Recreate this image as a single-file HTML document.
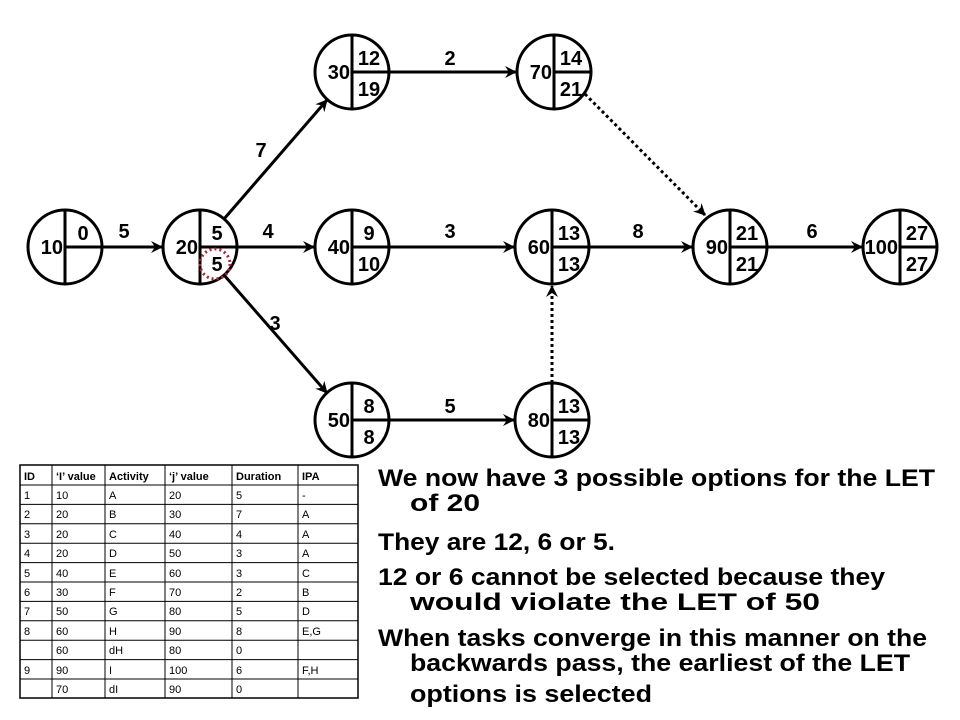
<!DOCTYPE html>
<html><head><meta charset="utf-8"><style>
body{margin:0;background:#fff;width:960px;height:720px;overflow:hidden;font-family:"Liberation Sans",Arial,sans-serif}
svg{position:absolute;left:0;top:0}
</style></head><body>
<svg width="960" height="720" viewBox="0 0 960 720" xmlns="http://www.w3.org/2000/svg">
<defs>
<marker id="a" markerWidth="12" markerHeight="12" refX="11" refY="6" orient="auto" markerUnits="userSpaceOnUse">
<path d="M0,0 L12,6 L0,12 L4,6 Z" fill="#000"/></marker>
</defs>
<g stroke="#000" stroke-width="3" fill="none">
<line x1="102" y1="247" x2="162" y2="247" marker-end="url(#a)"/>
<line x1="237" y1="247" x2="314" y2="247" marker-end="url(#a)"/>
<line x1="389" y1="247" x2="514" y2="247" marker-end="url(#a)"/>
<line x1="589" y1="247" x2="692" y2="247" marker-end="url(#a)"/>
<line x1="767" y1="247" x2="862" y2="247" marker-end="url(#a)"/>
<line x1="389" y1="72" x2="516" y2="72" marker-end="url(#a)"/>
<line x1="389" y1="420" x2="514" y2="420" marker-end="url(#a)"/>
<line x1="224" y1="219" x2="327" y2="100" marker-end="url(#a)"/>
<line x1="224" y1="275" x2="327" y2="393" marker-end="url(#a)"/>
<line x1="585" y1="94" x2="705" y2="215" stroke-dasharray="3,3" marker-end="url(#a)"/>
<line x1="552" y1="383" x2="552" y2="286" stroke-dasharray="3,3" marker-end="url(#a)"/>
</g>
<g stroke="#000" stroke-width="3" fill="#fff">
<circle cx="65" cy="247" r="37"/><circle cx="200" cy="247" r="37"/>
<circle cx="352" cy="72" r="37"/><circle cx="554" cy="72" r="37"/>
<circle cx="352" cy="247" r="37"/><circle cx="552" cy="247" r="37"/>
<circle cx="730" cy="247" r="37"/><circle cx="900" cy="247" r="37"/>
<circle cx="352" cy="420" r="37"/><circle cx="552" cy="420" r="37"/>
</g>
<g stroke="#000" stroke-width="3">
<path d="M65 210V284M65 247H102"/><path d="M200 210V284M200 247H237"/>
<path d="M352 35V109M352 72H389"/><path d="M554 35V109M554 72H591"/>
<path d="M352 210V284M352 247H389"/><path d="M552 210V284M552 247H589"/>
<path d="M730 210V284M730 247H767"/><path d="M900 210V284M900 247H937"/>
<path d="M352 383V457M352 420H389"/><path d="M552 383V457M552 420H589"/>
</g>
<circle cx="215" cy="264" r="15" fill="none" stroke="#b0203a" stroke-width="3" stroke-dasharray="2,3"/>
<g font-family="Liberation Sans, Arial, sans-serif" font-weight="bold" font-size="20" fill="#000">
<g text-anchor="end">
<text x="63" y="254">10</text><text x="198" y="254">20</text><text x="350" y="79">30</text>
<text x="552" y="79">70</text><text x="350" y="254">40</text><text x="550" y="254">60</text>
<text x="728" y="254">90</text><text x="898" y="254">100</text><text x="350" y="427">50</text>
<text x="550" y="427">80</text>
</g>
<g text-anchor="middle">
<text x="83" y="240">0</text>
<text x="217" y="240">5</text><text x="217" y="271">5</text>
<text x="369" y="65">12</text><text x="369" y="96">19</text>
<text x="571" y="65">14</text><text x="571" y="96">21</text>
<text x="369" y="240">9</text><text x="369" y="271">10</text>
<text x="569" y="240">13</text><text x="569" y="271">13</text>
<text x="747" y="240">21</text><text x="747" y="271">21</text>
<text x="917" y="240">27</text><text x="917" y="271">27</text>
<text x="369" y="413">8</text><text x="369" y="444">8</text>
<text x="569" y="413">13</text><text x="569" y="444">13</text>
<text x="124" y="238">5</text><text x="268" y="238">4</text><text x="450" y="238">3</text>
<text x="638" y="238">8</text><text x="812" y="238">6</text><text x="450" y="65">2</text>
<text x="450" y="413">5</text><text x="261" y="157">7</text><text x="275" y="330">3</text>
</g>
</g>
<g font-family="Liberation Sans, Arial, sans-serif" font-size="11" fill="#000">
<rect x="20" y="465" width="338" height="233" fill="none" stroke="#000" stroke-width="1.5"/>
<g stroke="#000" stroke-width="1">
<path d="M52 465V698M105 465V698M165 465V698M232 465V698M298 465V698"/>
<path d="M20 485H358M20 504.4H358M20 523.8H358M20 543.2H358M20 562.6H358M20 582H358M20 601.4H358M20 620.8H358M20 640.2H358M20 659.6H358M20 679H358"/>
</g>
<g font-weight="bold"><text x="24" y="480">ID</text><text x="56" y="480">‘I’ value</text><text x="109" y="480">Activity</text><text x="169" y="480">‘j’ value</text><text x="236" y="480">Duration</text><text x="302" y="480">IPA</text></g>
<text x="24" y="499">1</text><text x="56" y="499">10</text><text x="109" y="499">A</text><text x="169" y="499">20</text><text x="236" y="499">5</text><text x="302" y="499">-</text>
<text x="24" y="518">2</text><text x="56" y="518">20</text><text x="109" y="518">B</text><text x="169" y="518">30</text><text x="236" y="518">7</text><text x="302" y="518">A</text>
<text x="24" y="538">3</text><text x="56" y="538">20</text><text x="109" y="538">C</text><text x="169" y="538">40</text><text x="236" y="538">4</text><text x="302" y="538">A</text>
<text x="24" y="557">4</text><text x="56" y="557">20</text><text x="109" y="557">D</text><text x="169" y="557">50</text><text x="236" y="557">3</text><text x="302" y="557">A</text>
<text x="24" y="577">5</text><text x="56" y="577">40</text><text x="109" y="577">E</text><text x="169" y="577">60</text><text x="236" y="577">3</text><text x="302" y="577">C</text>
<text x="24" y="596">6</text><text x="56" y="596">30</text><text x="109" y="596">F</text><text x="169" y="596">70</text><text x="236" y="596">2</text><text x="302" y="596">B</text>
<text x="24" y="615">7</text><text x="56" y="615">50</text><text x="109" y="615">G</text><text x="169" y="615">80</text><text x="236" y="615">5</text><text x="302" y="615">D</text>
<text x="24" y="635">8</text><text x="56" y="635">60</text><text x="109" y="635">H</text><text x="169" y="635">90</text><text x="236" y="635">8</text><text x="302" y="635">E,G</text>
<text x="56" y="654">60</text><text x="109" y="654">dH</text><text x="169" y="654">80</text><text x="236" y="654">0</text>
<text x="24" y="674">9</text><text x="56" y="674">90</text><text x="109" y="674">I</text><text x="169" y="674">100</text><text x="236" y="674">6</text><text x="302" y="674">F,H</text>
<text x="56" y="693">70</text><text x="109" y="693">dI</text><text x="169" y="693">90</text><text x="236" y="693">0</text>
</g>
<g font-family="Liberation Sans, Arial, sans-serif" font-weight="bold" font-size="24" fill="#000" lengthAdjust="spacingAndGlyphs">
<text x="378" y="486" textLength="557" lengthAdjust="spacingAndGlyphs">We now have 3 possible options for the LET</text>
<text x="410" y="511" textLength="70" lengthAdjust="spacingAndGlyphs">of 20</text>
<text x="378" y="550" textLength="237" lengthAdjust="spacingAndGlyphs">They are 12, 6 or 5.</text>
<text x="378" y="585" textLength="507" lengthAdjust="spacingAndGlyphs">12 or 6 cannot be selected because they</text>
<text x="410" y="610" textLength="410" lengthAdjust="spacingAndGlyphs">would violate the LET of 50</text>
<text x="378" y="646" textLength="549" lengthAdjust="spacingAndGlyphs">When tasks converge in this manner on the</text>
<text x="410" y="671" textLength="500" lengthAdjust="spacingAndGlyphs">backwards pass, the earliest of the LET</text>
<text x="410" y="702" textLength="242" lengthAdjust="spacingAndGlyphs">options is selected</text>
</g>
</svg>
</body></html>
